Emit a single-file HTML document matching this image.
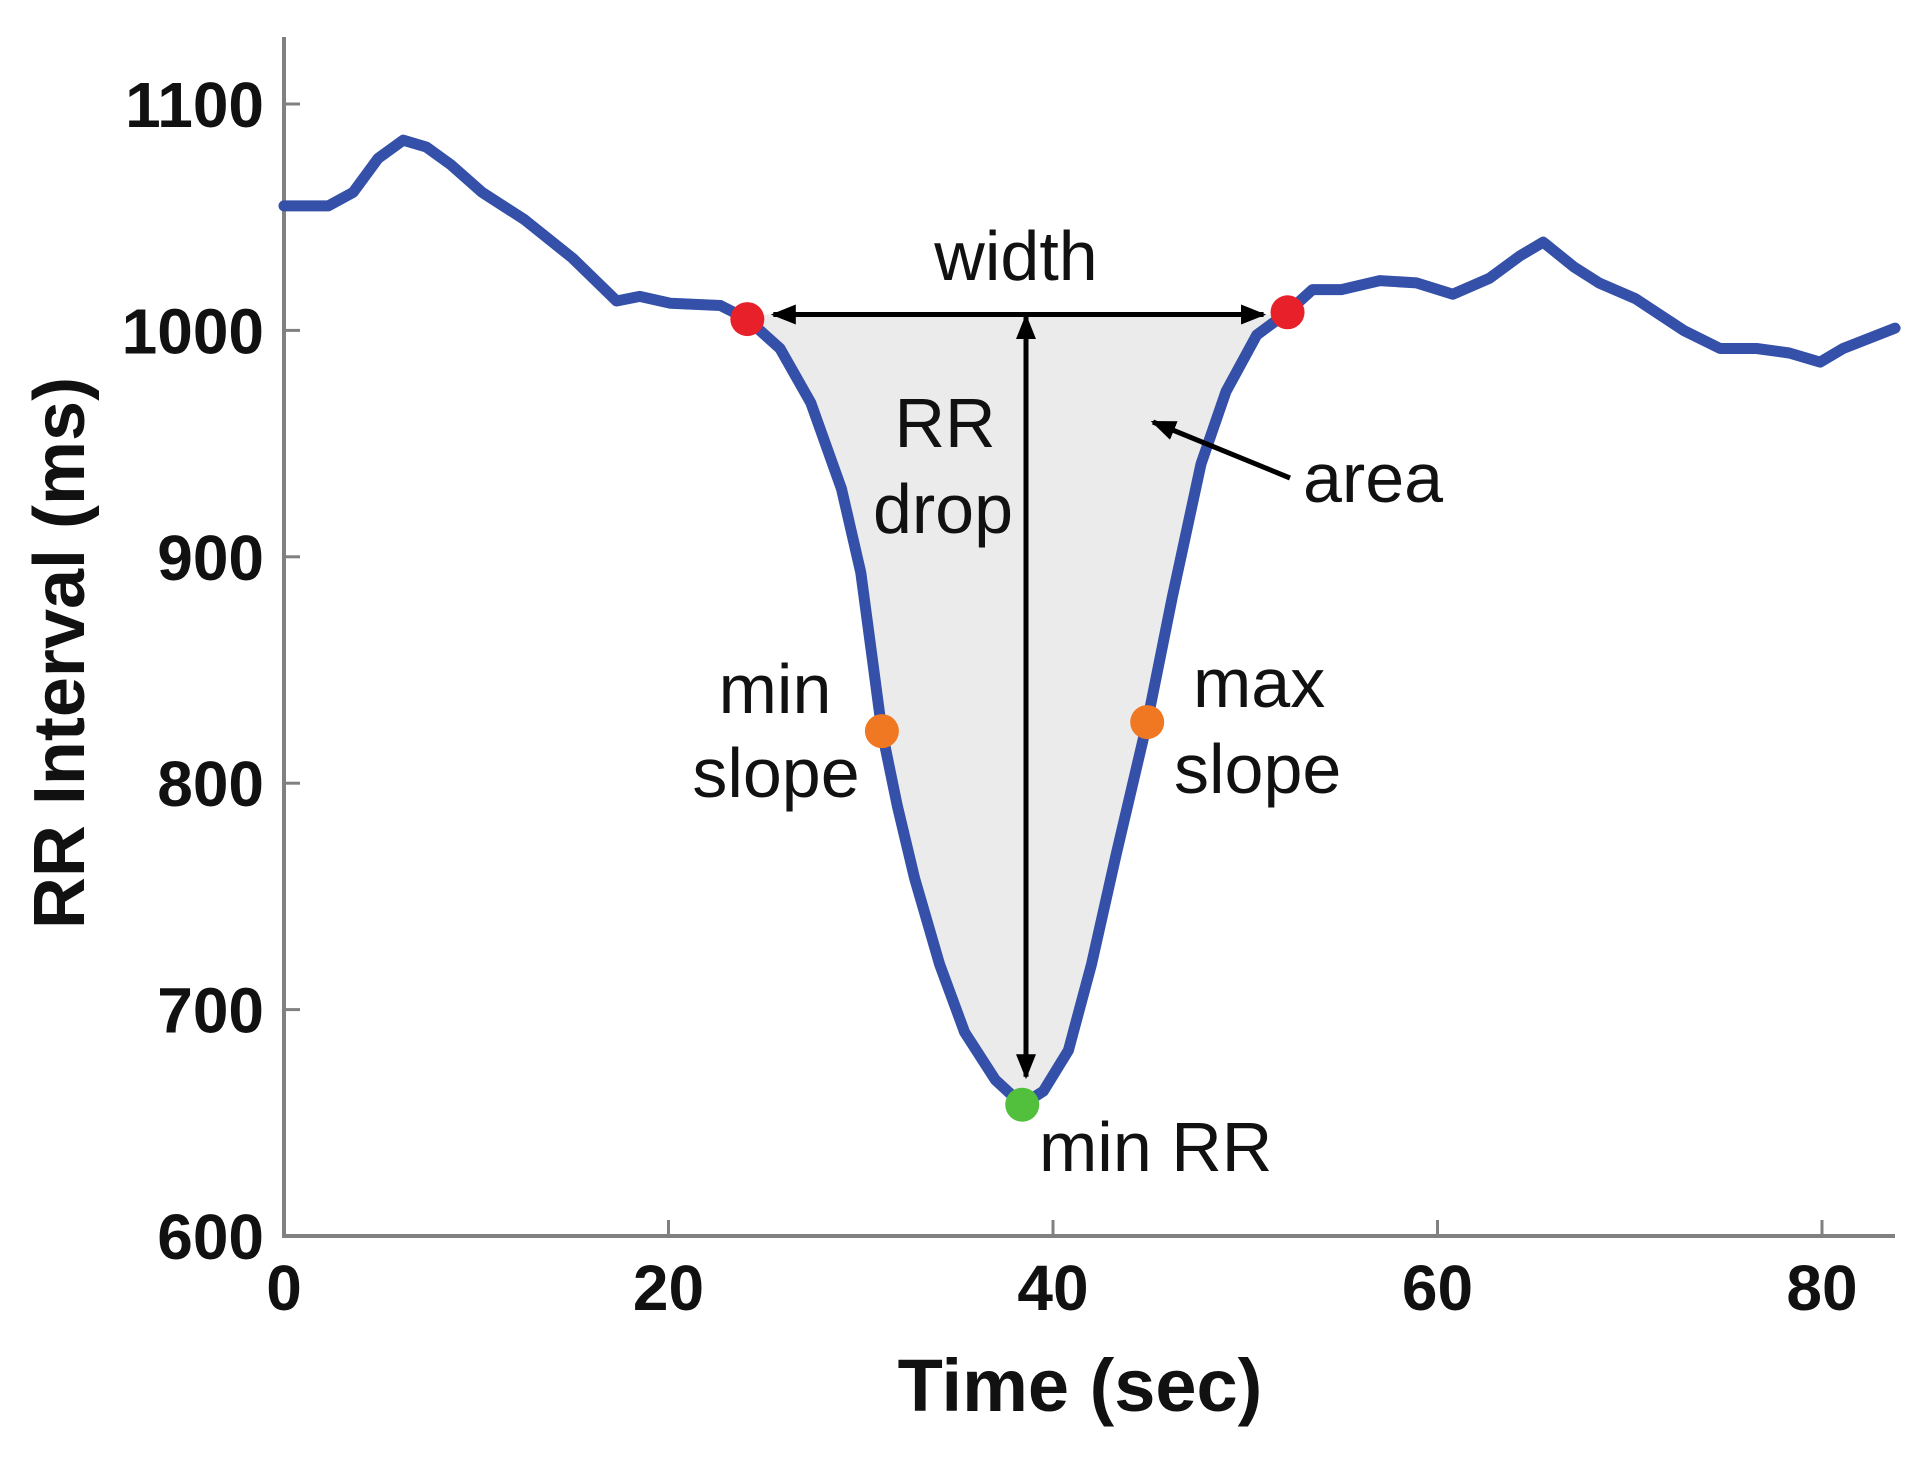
<!DOCTYPE html>
<html><head><meta charset="utf-8"><style>
html,body{margin:0;padding:0;background:#fff;}
svg text{font-family:"Liberation Sans",Arial,sans-serif;}
</style></head><body>
<svg id="chart" width="1913" height="1455" viewBox="0 0 1913 1455" xmlns="http://www.w3.org/2000/svg">
<g id="plot"></g>
</svg>
<script>
const times=[0,2.3,3.6,4.9,6.2,7.4,8.7,10.3,12.5,15,17.3,18.5,20.1,22.7,24.1,25.8,27.4,29,30,30.6,31.1,31.9,32.8,34.1,35.4,37,38.4,39.5,40.8,42,43.3,44.9,46.2,47.7,49,50.6,52.2,53.5,55,57,58.9,60.8,62.7,64.3,65.5,67.1,68.4,70.3,72.8,74.7,76.6,78.3,79.9,81.1,83.8];
const rr=[1055,1055,1061,1076,1084,1081,1073,1061,1049,1032,1013,1015,1012,1011,1005,992,968,930,893,855,823,790,758,720,690,669,658,664,682,720,769,827,882,941,973,998,1008,1018,1018,1022,1021,1016,1023,1033,1039,1028,1021,1014,1000,992,992,990,986,992,1001];
const xTicks=[0,20,40,60,80];
const yTicks=[600,700,800,900,1000,1100];
const startPt=[24.1,1005];
const endPt=[52.2,1008];
const slopePts=[[31.1,823],[44.9,827]];
const minPt=[38.4,658];
const widthLevel=1007;

const X0=284,X1=1822,Y0=1236,Y1=104;
function sx(t){return X0+(t-0)/80*(X1-X0);}
function sy(v){return Y0-(v-600)/500*(Y0-Y1);}
const NS='http://www.w3.org/2000/svg';
const g=document.getElementById('plot');
function mk(tag,attrs,parent){const e=document.createElementNS(NS,tag);for(const k in attrs)e.setAttribute(k,attrs[k]);(parent||g).appendChild(e);return e;}

const defs=mk('defs',{});
const m=mk('marker',{id:'ah',viewBox:'0 0 10 10',refX:'9',refY:'5',markerWidth:'5',markerHeight:'5',orient:'auto-start-reverse',markerUnits:'strokeWidth'},defs);
mk('path',{d:'M0,1 L10,5 L0,9 Z',fill:'#000'},m);

let pts=[];
for(let i=0;i<times.length;i++){if(times[i]>=startPt[0]&&times[i]<=endPt[0])pts.push(sx(times[i]).toFixed(1)+','+sy(rr[i]).toFixed(1));}
pts.push(sx(endPt[0])+','+sy(widthLevel));pts.push(sx(startPt[0])+','+sy(widthLevel));
const area=mk('polygon',{points:pts.join(' '),fill:'#ebebeb'});



const ax=mk('path',{d:`M${X0},37 L${X0},${Y0} L1895,${Y0}`,fill:'none',stroke:'#808080','stroke-width':4});


xTicks.forEach(t=>{
  const tk=mk('line',{x1:sx(t),x2:sx(t),y1:Y0,y2:Y0-16,stroke:'#808080','stroke-width':3});
  
  
  const tl=mk('text',{x:sx(t),y:1310,'text-anchor':'middle','font-size':64,'font-weight':'bold',fill:'#111'});
  tl.textContent=t;
  
  
});
yTicks.forEach(v=>{
  const tk=mk('line',{x1:X0,x2:X0+16,y1:sy(v),y2:sy(v),stroke:'#808080','stroke-width':3});
  
  
  const tl=mk('text',{x:264,y:sy(v)+23,'text-anchor':'end','font-size':64,'font-weight':'bold',fill:'#111'});
  tl.textContent=v;
  
  
});

const d=times.map((t,i)=>(i?'L':'M')+sx(t).toFixed(1)+','+sy(rr[i]).toFixed(1)).join(' ');
const ln=mk('path',{d:d,fill:'none',stroke:'#3450a8','stroke-width':11,'stroke-linejoin':'round','stroke-linecap':'round'});



const wa=mk('line',{x1:sx(startPt[0])+26,x2:sx(endPt[0])-24,y1:sy(widthLevel),y2:sy(widthLevel),stroke:'#000','stroke-width':5,'marker-start':'url(#ah)','marker-end':'url(#ah)'});


const da=mk('line',{x1:1026,x2:1026,y1:sy(widthLevel)+2,y2:sy(minPt[1])-28,stroke:'#000','stroke-width':5,'marker-start':'url(#ah)','marker-end':'url(#ah)'});


const aa=mk('line',{x1:1290,y1:478,x2:1153,y2:422,stroke:'#000','stroke-width':5,'marker-end':'url(#ah)'});



function dot(p,c,name){const e=mk('circle',{cx:sx(p[0]),cy:sy(p[1]),r:17,fill:c});}
dot(startPt,'#e8202a','start-point');
dot(endPt,'#e8202a','end-point');
dot(slopePts[0],'#f07822','min-slope-point');
dot(slopePts[1],'#f07822','max-slope-point');
dot(minPt,'#52c03c','min-rr-point');

function lab(txt,x,y,anchor,name){const e=mk('text',{x:x,y:y,'text-anchor':anchor,'font-size':70,fill:'#111'});e.textContent=txt;}
lab('width',1016,280,'middle','width-label');
lab('RR',945,447,'middle','rr-drop-label-1');
lab('drop',943,533,'middle','rr-drop-label-2');
lab('area',1303,502,'start','area-label');
lab('min',775,713,'middle','min-slope-label-1');
lab('slope',776,797,'middle','min-slope-label-2');
lab('max',1193,707,'start','max-slope-label-1');
lab('slope',1174,793,'start','max-slope-label-2');
lab('min RR',1039,1171,'start','min-rr-label');

const xt=mk('text',{x:1080,y:1411,'text-anchor':'middle','font-size':74,'font-weight':'bold',fill:'#111'});
xt.textContent='Time (sec)';


const yt=mk('text',{x:0,y:0,'text-anchor':'middle','font-size':72,'font-weight':'bold',fill:'#111',transform:'translate(84,653) rotate(-90)'});
yt.textContent='RR Interval (ms)';


</script>
</body></html>
